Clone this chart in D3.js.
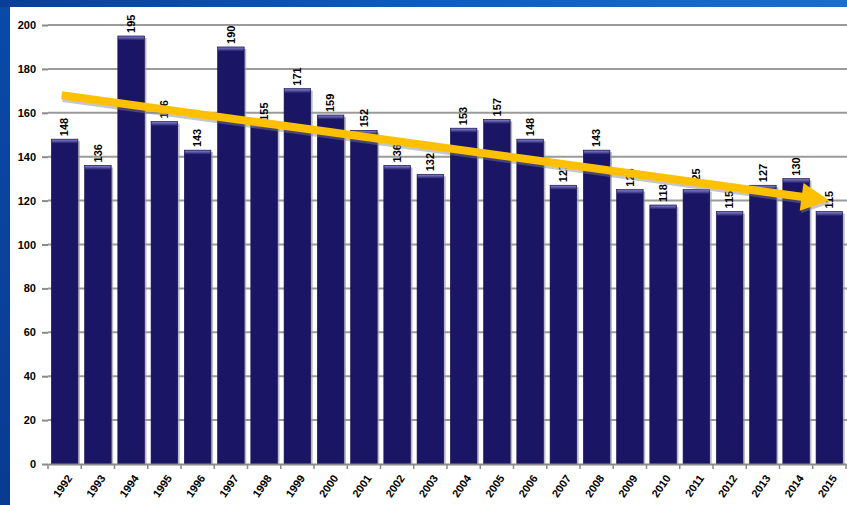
<!DOCTYPE html>
<html><head><meta charset="utf-8">
<script src="https://cdn.jsdelivr.net/npm/d3@7"></script>
<style>html,body{margin:0;padding:0;background:#0a3f98;overflow:hidden}</style>
</head><body>
<svg id="chart" width="847" height="505"></svg>
<script>
const years = ["1992","1993","1994","1995","1996","1997","1998","1999","2000","2001","2002","2003","2004","2005","2006","2007","2008","2009","2010","2011","2012","2013","2014","2015"];
const values = [148,136,195,156,143,190,155,171,159,152,136,132,153,157,148,127,143,125,118,125,115,127,130,115];
const yTicks = [0,20,40,60,80,100,120,140,160,180,200];
const trendStart = ["1992", 168];
const trendEnd = ["2015", 120];

const W = 847, H = 505;
const svg = d3.select("#chart");
const defs = svg.append("defs");

const bg = defs.append("linearGradient").attr("id","bg").attr("x1",0).attr("y1",0).attr("x2",1).attr("y2",0);
bg.append("stop").attr("offset","0%").attr("stop-color","#0a3f98");
bg.append("stop").attr("offset","50%").attr("stop-color","#0b5cc4");
bg.append("stop").attr("offset","100%").attr("stop-color","#1a6ed0");
svg.append("rect").attr("width",W).attr("height",H).attr("fill","url(#bg)");
const lefts = defs.append("linearGradient").attr("id","lefts").attr("x1",0).attr("y1",0).attr("x2",0).attr("y2",1);
lefts.append("stop").attr("offset","0%").attr("stop-color","#0a4aa8");
lefts.append("stop").attr("offset","100%").attr("stop-color","#0a3a90");
svg.append("rect").attr("x",0).attr("y",7).attr("width",10).attr("height",H).attr("fill","url(#lefts)");
svg.append("rect").attr("x",10).attr("y",7).attr("width",W-10).attr("height",H-7).attr("fill","#ffffff");

const bevel = defs.append("linearGradient").attr("id","bevel").attr("x1",0).attr("y1",0).attr("x2",0).attr("y2",1);
bevel.append("stop").attr("offset","0%").attr("stop-color","#8080c8");
bevel.append("stop").attr("offset","100%").attr("stop-color","#1b1566");

const x = d3.scaleBand().domain(years).range([48,846]).paddingInner(0.2).paddingOuter(0.1);
const y = d3.scaleLinear().domain([0,200]).range([464,25]);
const FONT = "Liberation Sans, Arial, sans-serif";

// gridlines
svg.append("g").selectAll("line").data(yTicks.filter(d=>d>0)).join("line")
  .attr("x1",48).attr("x2",W).attr("y1",d=>y(d)).attr("y2",d=>y(d))
  .attr("stroke","#9a9a9a").attr("stroke-width",2);

// y axis
const ya = svg.append("g").attr("transform","translate(48,0)")
  .call(d3.axisLeft(y).tickValues(yTicks).tickSize(6).tickPadding(6));
ya.select(".domain").remove();
ya.selectAll(".tick line").attr("stroke","#8a8a8a").attr("stroke-width",2);
ya.selectAll(".tick text").attr("font-family",FONT)
  .attr("font-weight","bold").attr("font-size","11px").attr("fill","#000");

// bars shadow
svg.append("g").selectAll("rect").data(values).join("rect")
  .attr("x",(d,i)=>x(years[i])+2).attr("y",d=>y(d)+2)
  .attr("width",x.bandwidth()).attr("height",d=>y(0)-y(d)-2)
  .attr("fill","#9a9aa8").attr("opacity",0.7);
// bars
svg.append("g").selectAll("rect").data(values).join("rect")
  .attr("x",(d,i)=>x(years[i])).attr("y",d=>y(d))
  .attr("width",x.bandwidth()).attr("height",d=>y(0)-y(d))
  .attr("fill","#1b1566").attr("stroke","#14104e").attr("stroke-width",0.6);
svg.append("g").selectAll("rect").data(values).join("rect")
  .attr("x",(d,i)=>x(years[i])+0.5).attr("y",d=>y(d)+0.5)
  .attr("width",x.bandwidth()-1).attr("height",4)
  .attr("fill","url(#bevel)");

// x axis
const xa = svg.append("g").attr("transform",`translate(0,${y(0)})`)
  .call(d3.axisBottom(x).tickSize(0).tickPadding(0));
xa.select(".domain").attr("stroke","#8a8a8a").attr("stroke-width",2);
xa.selectAll(".tick text")
  .attr("font-family",FONT).attr("font-weight","bold")
  .attr("font-size","11px").attr("fill","#000")
  .attr("text-anchor","end")
  .attr("transform","translate(5,12) rotate(-55)").attr("dy","0.35em");
// band boundary ticks
const bounds = years.map(yv=>x(yv)-x.step()*x.paddingInner()/2).concat([x(years[years.length-1])+x.bandwidth()+x.step()*x.paddingInner()/2]);
svg.append("g").selectAll("line").data(bounds).join("line")
  .attr("x1",d=>d).attr("x2",d=>d).attr("y1",y(0)).attr("y2",y(0)+5)
  .attr("stroke","#8a8a8a").attr("stroke-width",1.5);

// value labels
svg.append("g").selectAll("text").data(values).join("text")
  .attr("transform",(d,i)=>`translate(${x(years[i])+x.bandwidth()/2},${y(d)-3}) rotate(-90)`)
  .attr("dy","0.35em").attr("text-anchor","start")
  .attr("font-family",FONT).attr("font-weight","bold")
  .attr("font-size","11px").attr("fill","#000").text(d=>d);

// trend arrow
const x0 = x(trendStart[0])+x.bandwidth()/2 - 3, y0 = y(trendStart[1]);
const x1 = x(trendEnd[0])+x.bandwidth()/2, y1 = y(trendEnd[1]);
const ang = Math.atan2(y1-y0, x1-x0);
const len = Math.hypot(x1-x0, y1-y0);
const sw = 4, hl = 28, hw = 14;
const pts = [[0,-sw],[len-hl,-sw],[len-hl,-hw],[len,0],[len-hl,hw],[len-hl,sw],[0,sw]];
const ag = svg.append("g").attr("transform",`translate(${x0},${y0}) rotate(${ang*180/Math.PI})`);
ag.append("polygon").attr("points",pts.map(p=>[p[0]+1.5,p[1]+2.5].join(",")).join(" "))
  .attr("fill","#808080").attr("opacity",0.45);
ag.append("polygon").attr("points",pts.map(p=>p.join(",")).join(" "))
  .attr("fill","#ffc000");
</script>
</body></html>
